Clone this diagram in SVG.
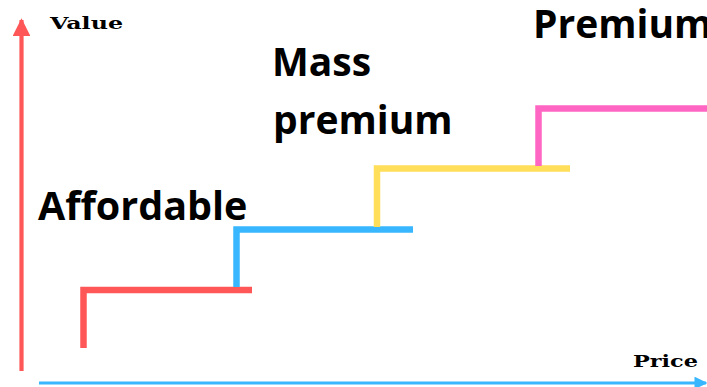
<svg xmlns="http://www.w3.org/2000/svg" width="707" height="387" viewBox="0 0 707 387">
  <style>
    .step { fill: none; stroke-width: 6.5; stroke-linecap: butt; stroke-linejoin: miter; }
    .label { font-family: "Open Sans", "Liberation Sans", sans-serif; font-weight: 700; fill: #000; }
    .axis-label { font-family: "DejaVu Serif", "Liberation Serif", serif; font-weight: 700; fill: #000; }
  </style>
  <defs>
    <marker id="arrow-red" viewBox="0 0 10 10" refX="9" refY="5" markerWidth="4.2" markerHeight="4.2" orient="auto" markerUnits="strokeWidth">
      <path d="M0 0 L10 5 L0 10 Z" fill="#ff5757"/>
    </marker>
    <marker id="arrow-blue" viewBox="0 0 10 10" refX="9" refY="5" markerWidth="4" markerHeight="4" orient="auto" markerUnits="strokeWidth">
      <path d="M0 0 L10 5 L0 10 Z" fill="#38b6ff"/>
    </marker>
  </defs>
  <rect width="707" height="387" fill="#ffffff"/>

  <!-- axes -->
  <g id="connectors">
    <line x1="21.5" y1="371" x2="21.5" y2="20" stroke="#ff5757" stroke-width="4.2" marker-end="url(#arrow-red)"/>
    <line x1="39" y1="383" x2="706" y2="383" stroke="#38b6ff" stroke-width="3.2" marker-end="url(#arrow-blue)"/>
  </g>

  <!-- price tiers as steps -->
  <g id="step-affordable">
    <path class="step" stroke="#ff5757" d="M83.5 348 V290 H252"/>
  </g>
  <g id="step-mass-premium">
    <path class="step" stroke="#38b6ff" d="M236.5 287 V229.5 H413"/>
  </g>
  <g id="step-upper">
    <path class="step" stroke="#ffde59" d="M377 227 V168.5 H570"/>
  </g>
  <g id="step-premium">
    <path class="step" stroke="#ff66c4" d="M538.5 166 V108.5 H707"/>
  </g>

  <!-- tier labels -->
  <g id="label-affordable">
    <text class="label" x="38" y="220" font-size="39.5">Affordable</text>
  </g>
  <g id="label-mass-premium">
    <text class="label" x="272" y="76" font-size="39">Mass</text>
    <text class="label" x="273" y="134" font-size="39">premium</text>
  </g>
  <g id="label-premium">
    <text class="label" x="533" y="38" font-size="39">Premium</text>
  </g>

  <!-- axis labels -->
  <g id="label-value">
    <text class="axis-label" x="50" y="29" font-size="17" textLength="73" lengthAdjust="spacingAndGlyphs">Value</text>
  </g>
  <g id="label-price">
    <text class="axis-label" x="633" y="367" font-size="17" textLength="65" lengthAdjust="spacingAndGlyphs">Price</text>
  </g>
</svg>
